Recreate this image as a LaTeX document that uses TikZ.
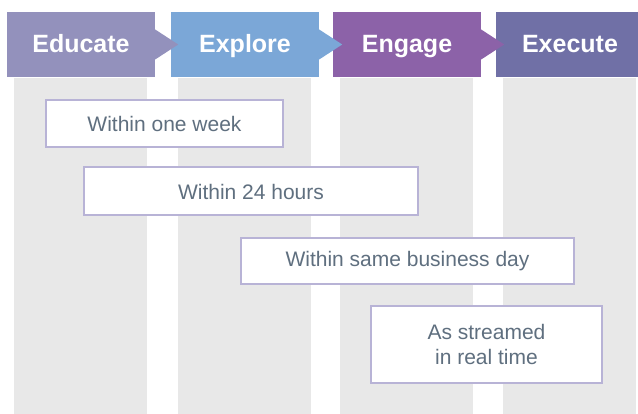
\documentclass[tikz,border=0pt]{standalone}
\usepackage{fontspec}
\setmainfont{Liberation Sans}
\usepackage{xcolor}
\usetikzlibrary{calc}
\definecolor{educol}{HTML}{9391BC}
\definecolor{explcol}{HTML}{7BA7D7}
\definecolor{engcol}{HTML}{8C62A8}
\definecolor{execol}{HTML}{7070A6}
\definecolor{colgray}{HTML}{E8E8E8}
\definecolor{boxline}{HTML}{B8B3D6}
\definecolor{txtgray}{HTML}{5F6F7F}

\begin{document}
\begin{tikzpicture}[x=1pt, y=-1pt,
  phase/.style={minimum width=148pt, minimum height=65pt, inner sep=0pt, text height=17pt, text depth=0pt, text=white, font=\fontsize{25}{28}\selectfont\bfseries},
  timebox/.style={draw=boxline, line width=2pt, fill=white, text=txtgray, align=center, inner sep=0pt, font=\fontsize{21}{25}\selectfont}
]
  \clip (0,0) rectangle (638,414);
  % grey columns
  \fill[colgray] (14,78) rectangle (147,414);
  \fill[colgray] (178,78) rectangle (311,414);
  \fill[colgray] (340,78) rectangle (473,414);
  \fill[colgray] (503,78) rectangle (636,414);
  % phase headers
  \node[phase, fill=educol] (edu) at (81,44.5) {Educate};
  \node[phase, fill=explcol] (expl) at (245,44.5) {Explore};
  \node[phase, fill=engcol] (eng) at (407,44.5) {Engage};
  \node[phase, fill=execol] (exe) at (570,44.5) {Execute};
  \fill[educol] ($(edu.east)+(0,-15)$) -- ($(edu.east)+(23,0)$) -- ($(edu.east)+(0,15)$) -- cycle;
  \fill[explcol] ($(expl.east)+(0,-15)$) -- ($(expl.east)+(23,0)$) -- ($(expl.east)+(0,15)$) -- cycle;
  \fill[engcol] ($(eng.east)+(0,-15)$) -- ($(eng.east)+(23,0)$) -- ($(eng.east)+(0,15)$) -- cycle;
  % time boxes
  \node[timebox, minimum width=237pt, minimum height=47pt] (week) at (164.5,123.5) {Within one week};
  \node[timebox, minimum width=334pt, minimum height=48pt] (hours) at (251,191.5) {Within 24 hours};
  \node[timebox, minimum width=333pt, minimum height=46pt] (day) at (407.5,261) {Within same business day};
  \node[timebox, minimum width=231pt, minimum height=77pt] (live) at (486.5,344.5) {As streamed\\in real time};
\end{tikzpicture}
\end{document}
